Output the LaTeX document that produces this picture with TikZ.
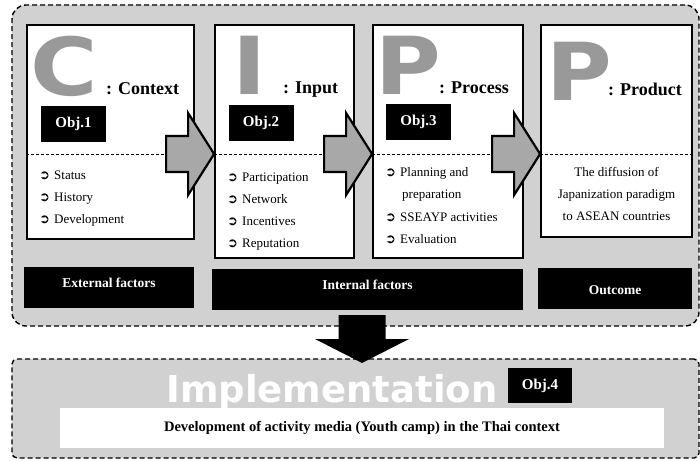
\documentclass[tikz,border=0pt]{standalone}
\usepackage{fontspec}
\usepackage{graphicx}
\setmainfont{Liberation Serif}
\newfontfamily\heavyfont{DejaVu Sans}
\newfontfamily\symfont{DejaVu Sans}
\usetikzlibrary{positioning,calc}
\definecolor{panelgray}{gray}{0.82}
\definecolor{arrowgray}{gray}{0.66}
\definecolor{letgray}{gray}{0.6}

\begin{document}
\begin{tikzpicture}[
    x=1pt, y=-1pt,
    container/.style={draw=black, line width=1.4pt, dash pattern=on 5pt off 3pt, fill=panelgray, inner sep=0pt},
    stage/.style={draw=black, line width=1.8pt, fill=white, inner sep=0pt},
    objbox/.style={fill=black, text=white, font=\fontsize{15}{15}\selectfont\bfseries, minimum width=65pt, minimum height=36pt, inner sep=0pt},
    bar/.style={fill=black, minimum height=41pt, inner sep=0pt},
    bartext/.style={text=white, font=\fontsize{13.5}{13.5}\selectfont\bfseries, inner sep=0pt},
    bigletter/.style={text=letgray, font=\heavyfont\bfseries\fontsize{80}{80}\selectfont, inner sep=0pt, anchor=base west},
    stagename/.style={font=\fontsize{18}{18}\selectfont\bfseries, inner sep=0pt, anchor=base west},
    item/.style={font=\fontsize{13}{13}\selectfont, inner sep=0pt, anchor=base west},
    bullet/.style={font=\symfont\bfseries\fontsize{13}{13}\selectfont, inner sep=0pt, anchor=base west},
    divider/.style={dash pattern=on 3pt off 2pt, line width=0.5pt},
    blockarrow/.style={draw=black, line width=2.2pt, fill=arrowgray, line join=miter},
    downarrow/.style={fill=black}
]

% Canvas
\path[use as bounding box, fill=white] (0,0) rectangle (700,460);

% CIPP panel
\node[container, rounded corners=14pt, minimum width=687pt, minimum height=321pt] (cipp) at (355.5,165.5) {};

% Stage boxes
\node[stage, minimum width=167pt, minimum height=214pt] (cbox) at (110.5,132) {};
\node[stage, minimum width=139pt, minimum height=233pt] (ibox) at (284.5,141.5) {};
\node[stage, minimum width=150pt, minimum height=233pt] (pbox) at (448,141.5) {};
\node[stage, minimum width=151pt, minimum height=212pt] (obox) at (616.5,131) {};

% Big letters and stage names
\node[bigletter] (cletter) at (30,95) {\scalebox{1.15}[1]{C}};
\node[bigletter] (iletter) at (232,94) {\scalebox{1.15}[1]{I}};
\node[bigletter] (pletter) at (375,94) {\scalebox{1.12}[1]{P}};
\node[bigletter] (oletter) at (546,100) {\scalebox{1.12}[1]{P}};
\node[stagename] (cname) at (106,94) {: Context};
\node[stagename] (iname) at (283,93) {: Input};
\node[stagename] (pname) at (439,93) {: Process};
\node[stagename] (oname) at (608,95) {: Product};

% Objectives
\node[objbox] (obj1) at (73.5,124) {Obj.1};
\node[objbox] (obj2) at (261,122.5) {Obj.2};
\node[objbox] (obj3) at (418.5,121.5) {Obj.3};

% Dashed dividers
\coordinate (divy) at (0,154);
\foreach \b in {cbox, ibox, pbox, obox} {
    \draw[divider] (\b.west |- divy) -- (\b.east |- divy);
}

% Item lists
\foreach \txt [count=\k] in {Status, History, Development} {
    \node[bullet] (cb\k) at (39,157+22*\k) {➲};
    \node[item] (ct\k) at (54,157+22*\k) {\txt};
}
\foreach \txt [count=\k] in {Participation, Network, Incentives, Reputation} {
    \node[bullet] (ib\k) at (227,159+22*\k) {➲};
    \node[item] (it\k) at (242,159+22*\k) {\txt};
}
\node[bullet] (pb1) at (385,176) {➲};
\node[item] (pt1) at (400,176) {Planning and};
\node[item] (pt2) at (402,198) {preparation};
\node[bullet] (pb3) at (385,221) {➲};
\node[item] (pt3) at (400,221) {SSEAYP activities};
\node[bullet] (pb4) at (385,243) {➲};
\node[item] (pt4) at (400,243) {Evaluation};
\foreach \txt [count=\k] in {The diffusion of, Japanization paradigm, to ASEAN countries} {
    \node[item, anchor=base] (ot\k) at (616.5,154+22*\k) {\txt};
}

% Arrows between stages
\foreach \to in {ibox, pbox, obox} {
    \draw[blockarrow] (\to.west |- divy) -- ++(-26,-41) -- ++(0,23) -- ++(-22,0)
        -- ++(0,36) -- ++(22,0) -- ++(0,23) -- cycle;
}

% Factor bars
\node[bar, minimum width=170pt] (extbar) at (109,287.5) {};
\node[bar, minimum width=311pt] (intbar) at (367.5,289.5) {};
\node[bar, minimum width=154pt] (outbar) at (615,288.5) {};
\node[bartext] (exttext) at ([yshift=5pt]extbar.center) {External factors};
\node[bartext] (inttext) at ([yshift=5pt]intbar.center) {Internal factors};
\node[bartext] (outtext) at ([yshift=-2pt]outbar.center) {Outcome};

% Implementation panel
\node[container, rounded corners=5pt, minimum width=687pt, minimum height=99pt] (impl) at (355.5,408.5) {};
\node[text=white, font=\heavyfont\bfseries\fontsize{37}{37}\selectfont, inner sep=0pt, anchor=base] (impltitle) at (332,402) {Implementation};
\node[objbox, minimum width=64pt, minimum height=35pt] (obj4) at (540,385.5) {Obj.4};
\node[fill=white, minimum width=604pt, minimum height=40pt, inner sep=0pt,
      font=\fontsize{14.5}{14.5}\selectfont\bfseries] (media) at (362,428)
      {Development of activity media (Youth camp) in the Thai context};

% Down arrow
\coordinate (downtip) at (362,363);
\fill[downarrow] (downtip) -- ++(-47,-24) -- ++(23.5,0) -- ++(0,-24) -- ++(47,0)
    -- ++(0,24) -- ++(23.5,0) -- cycle;

\end{tikzpicture}
\end{document}
